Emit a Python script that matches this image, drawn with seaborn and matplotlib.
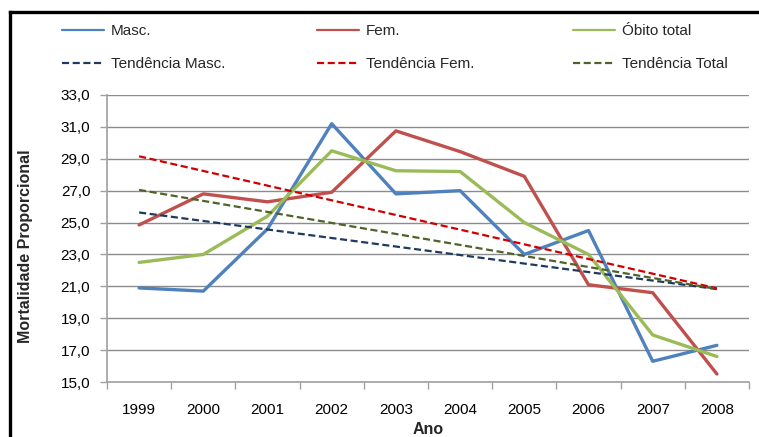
import numpy as np
import pandas as pd
import matplotlib
matplotlib.use("Agg")
import matplotlib.pyplot as plt
from matplotlib.lines import Line2D
from matplotlib.ticker import FixedLocator, FuncFormatter
import seaborn as sns

years = [1999, 2000, 2001, 2002, 2003, 2004, 2005, 2006, 2007, 2008]
masc = [20.9, 20.7, 24.6, 31.2, 26.8, 27.0, 23.0, 24.5, 16.3, 17.3]
fem = [24.85, 26.8, 26.3, 26.9, 30.75, 29.45, 27.9, 21.1, 20.6, 15.5]
total = [22.5, 23.0, 25.4, 29.5, 28.25, 28.2, 25.0, 23.0, 17.95, 16.6]

series_names = ["Masc.", "Fem.", "Óbito total"]
trend_names = ["Tendência Masc.", "Tendência Fem.", "Tendência Total"]
series_colors = ["#4F81BD", "#C0504D", "#9BBB59"]
trend_colors = ["#1F3A60", "#D00000", "#4F6228"]

sns.set_theme(style="white")
plt.rcParams["font.family"] = ["Liberation Sans", "DejaVu Sans"]

df = pd.DataFrame({"Ano": years, "Masc.": masc, "Fem.": fem, "Óbito total": total})

fig = plt.figure(figsize=(7.59, 4.37), dpi=100)
ax = fig.add_axes([107 / 759, 1 - 382 / 437, 642 / 759, 287 / 437])

x = np.array(years, dtype=float)
for name, tname, col, tcol in zip(series_names, trend_names, series_colors, trend_colors):
    sns.lineplot(data=df, x="Ano", y=name, ax=ax, color=col, lw=2.4, zorder=3)
    slope, icpt = np.polyfit(x, df[name].to_numpy(), 1)
    trend = pd.DataFrame({"Ano": years, "v": slope * x + icpt})
    sns.lineplot(data=trend, x="Ano", y="v", ax=ax, color=tcol, lw=1.6,
                 linestyle=(0, (3.2, 1.6)), zorder=4)

ax.set_xlim(1998.5, 2008.5)
ax.set_ylim(15, 33)
ax.set_xlabel("")
ax.set_ylabel("")

ax.yaxis.set_major_locator(FixedLocator(np.arange(15, 33.1, 2)))
ax.yaxis.set_major_formatter(FuncFormatter(lambda v, p: f"{v:.1f}".replace(".", ",")))
ax.xaxis.set_major_locator(FixedLocator(years))
ax.xaxis.set_major_formatter(FuncFormatter(lambda v, p: f"{int(round(v))}"))
ax.xaxis.set_minor_locator(FixedLocator(np.arange(1998.5, 2008.6, 1)))

grid_c = "#8C8C8C"
ax.grid(axis="y", color=grid_c, lw=1.0)
ax.set_axisbelow(True)
for s in ["top", "right"]:
    ax.spines[s].set_visible(False)
for s in ["left", "bottom"]:
    ax.spines[s].set_color("#A0A0A0")
    ax.spines[s].set_linewidth(1.2)

ax.tick_params(axis="y", which="major", length=5, width=1, color="#A0A0A0",
               direction="out", left=True, pad=7, labelsize=11, labelcolor="black")
ax.tick_params(axis="x", which="major", length=0, pad=15, labelsize=11, labelcolor="black")
ax.tick_params(axis="x", which="minor", length=5, width=1, color="#A0A0A0",
               direction="out", bottom=True)

fig.text(26 / 759, 1 - 246 / 437, "Mortalidade Proporcional", rotation=90,
         ha="center", va="center", fontsize=11.5, fontweight="bold")
fig.text(428 / 759, 0.5 / 437, "Ano", ha="center", va="bottom",
         fontsize=11.5, fontweight="bold")

# legend: three columns, a solid series above its dashed trend
col_x = [62, 317, 573]
for cx, name, tname, col, tcol in zip(col_x, series_names, trend_names, series_colors, trend_colors):
    handles = [Line2D([], [], color=col, lw=1.6),
               Line2D([], [], color=tcol, lw=1.6, linestyle=(0, (3.2, 1.6)))]
    fig.legend(handles, [name, tname], loc="upper left",
               bbox_to_anchor=(cx / 759, 1 - 24 / 437), frameon=False,
               borderpad=0, borderaxespad=0, handlelength=2.75,
               handletextpad=0.45, labelspacing=1.27, fontsize=11)

# outer frame (left and top edges)
fig.add_artist(Line2D([10 / 759, 10 / 759], [0, 1 - 12 / 437], color="black",
                      lw=2.4, transform=fig.transFigure, solid_capstyle="projecting"))
fig.add_artist(Line2D([10 / 759, 1], [1 - 12 / 437, 1 - 12 / 437], color="black",
                      lw=2.4, transform=fig.transFigure, solid_capstyle="projecting"))

fig.savefig("out.png", dpi=100)
